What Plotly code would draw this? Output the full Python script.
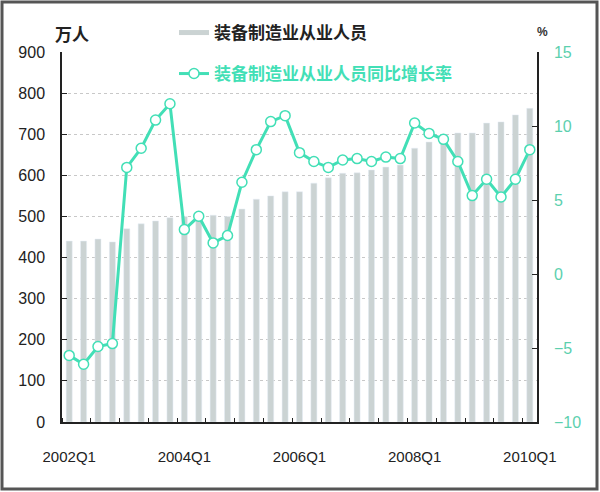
import plotly.graph_objects as go

# quarterly categories 2002Q1 .. 2010Q1
quarters = [f"{y}Q{q}" for y in range(2002, 2011) for q in range(1, 5)][:33]
tick_labels = ["2002Q1", "2004Q1", "2006Q1", "2008Q1", "2010Q1"]

# 装备制造业从业人员 (万人)
employees = [440, 440, 445, 438, 470, 482, 489, 497,
             500, 503, 503, 500, 518, 542, 550, 560,
             560, 581, 594, 605, 606, 613, 620, 625,
             666, 681, 698, 703, 703, 727, 730, 747,
             763]

# 同比增长率 (%)
growth = [-5.5, -6.1, -4.9, -4.7, 7.2, 8.5, 10.4, 11.5,
          3.0, 3.9, 2.1, 2.6, 6.2, 8.4, 10.3, 10.7,
          8.2, 7.6, 7.2, 7.7, 7.8, 7.6, 7.9, 7.8,
          10.2, 9.5, 9.1, 7.6, 5.3, 6.4, 5.2, 6.4,
          8.4]

bar_color = "#cbd3d3"
line_color = "#42dfb6"
font = "Liberation Sans, Arial, sans-serif"

# plot area in pixels, used to place the loose texts
L, R, T, B = 62, 537, 52, 422


def px(x):
    return (x - L) / (R - L)


def py(y):
    return (B - y) / (B - T)


xs = list(range(len(quarters)))

fig = go.Figure()

fig.add_trace(go.Bar(
    x=xs, y=employees, name="装备制造业从业人员",
    marker_color=bar_color, width=0.42, showlegend=False,
    hovertext=quarters,
))
# legend swatch for the bars (drawn as a thick gray line like the original)
fig.add_trace(go.Scatter(
    x=[None], y=[None], mode="lines", name="<b>装备制造业从业人员</b>",
    line=dict(color=bar_color, width=5), legend="legend",
))
fig.add_trace(go.Scatter(
    x=xs, y=growth, yaxis="y2", mode="lines+markers",
    name="<b>装备制造业从业人员同比增长率</b>",
    line=dict(color=line_color, width=3),
    marker=dict(symbol="circle", size=10, color="white",
                line=dict(color=line_color, width=1.5)),
    legend="legend2", hovertext=quarters,
))

fig.update_layout(
    width=600, height=492,
    margin=dict(l=L, r=600 - R, t=T, b=492 - B, autoexpand=False),
    paper_bgcolor="white", plot_bgcolor="white",
    font=dict(family=font, color="#222"),
    legend=dict(x=px(174), y=py(33), xanchor="left", yanchor="middle",
                bgcolor="rgba(0,0,0,0)",
                font=dict(size=17, color="#222", family="Noto Sans CJK SC"),
                itemwidth=30),
    legend2=dict(x=px(174), y=py(74), xanchor="left", yanchor="middle",
                 bgcolor="rgba(0,0,0,0)",
                 font=dict(size=17, color=line_color, family="Noto Sans CJK SC"),
                 itemwidth=30),
    xaxis=dict(
        range=[-0.5, len(quarters) - 0.5],
        tickmode="array",
        tickvals=[quarters.index(t) for t in tick_labels],
        ticktext=tick_labels,
        ticks="", showgrid=False, zeroline=False,
        showline=True, linecolor="#222", linewidth=1.5,
        tickfont=dict(size=15, color="#222"),
        ticklabelstandoff=20,
        minor=dict(tick0=1.5, dtick=2, ticks="inside", ticklen=4,
                   tickcolor="#222", showgrid=False),
    ),
    yaxis=dict(
        range=[0, 900], dtick=100,
        ticks="inside", ticklen=5, tickcolor="#222",
        showline=True, linecolor="#222", linewidth=1.5,
        showgrid=True, gridcolor="#c8c8c8", griddash="dot", gridwidth=1,
        zeroline=False,
        tickfont=dict(size=16, color="#222"),
        ticklabelstandoff=12,
    ),
    yaxis2=dict(
        range=[-10, 15], dtick=5, overlaying="y", side="right",
        ticks="inside", ticklen=5, tickcolor="#222",
        showline=True, linecolor="#222", linewidth=1.5,
        showgrid=False, zeroline=False,
        tickfont=dict(size=16, color="#5cd0ae"),
        ticklabelstandoff=12,
    ),
    bargap=0.58,
    annotations=[
        dict(text="<b>万人</b>", x=px(53), y=py(33), xref="paper", yref="paper",
             showarrow=False, font=dict(size=17, family="Noto Sans CJK SC", color="#222"),
             xanchor="left", yanchor="middle"),
        dict(text="<b>%</b>", x=px(542), y=py(32), xref="paper", yref="paper",
             showarrow=False, font=dict(size=12, color="#333"),
             xanchor="center", yanchor="middle"),
    ],
    shapes=[dict(type="rect", xref="paper", yref="paper",
                 x0=px(2), x1=px(597), y0=py(489), y1=py(2),
                 line=dict(color="#555", width=3))],
)

# drop the default page margin so the 600x492 figure fills the window
fig.write_html("out.html", config={"displayModeBar": False},
               post_script="document.body.style.margin='0px';")
